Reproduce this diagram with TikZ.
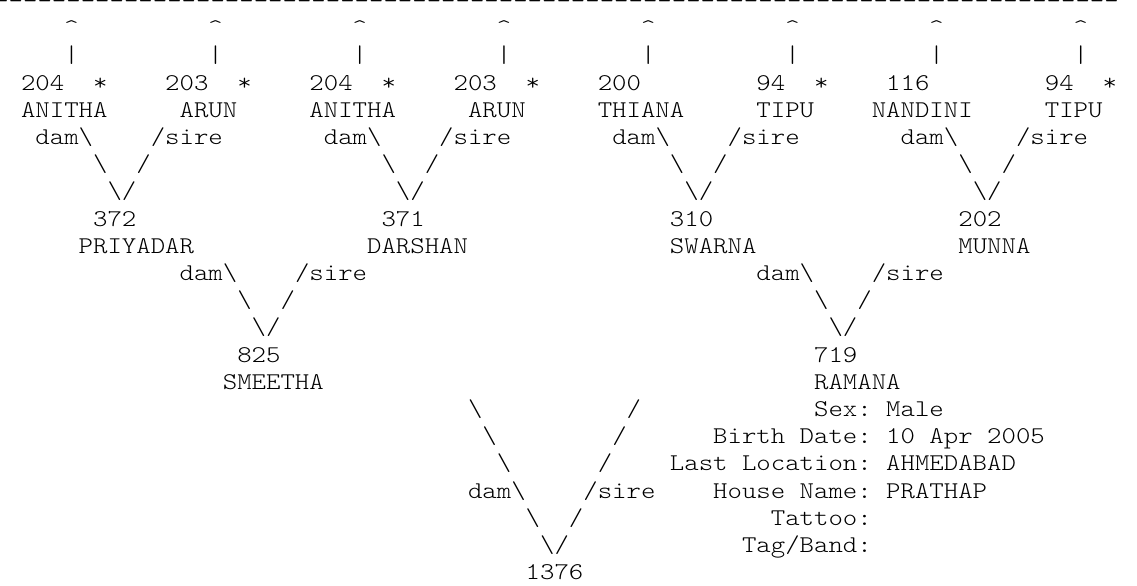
\documentclass[tikz,border=0pt]{standalone}
\usepackage{fontspec}
\newfontfamily\asciimono{lmmonolt10-regular.otf}[FakeStretch=1.1429, Ligatures=TeXOff]
\tikzset{txt/.style={anchor=base west, inner sep=0pt, outer sep=0pt,
  font=\asciimono\fontsize{18.02}{21.6}\selectfont, text=black}}
% token at grid column / row (1 unit = 1 px, y downwards)
\newcommand\asciitok[4]{\node[txt] (#1) at ({6.6+(#2)*14.42},{8.4+(#3)*27.2}) {#4};}
\newcommand\bs{\textbackslash}
\begin{document}
\begin{tikzpicture}[x=0.75pt,y=-0.75pt]
\useasboundingbox (0,0) rectangle (1137,585);
% top rule of dashes
\node[txt] (rule) at (-5.7,8.4) {------------------------------------------------------------------------------};
% row 1 and 2: arrows up
\foreach \c [count=\i] in {4,14,24,34,44,54,64,74}{
  \asciitok{up\i}{\c}{1}{\textasciicircum}
  \asciitok{bar\i}{\c}{2}{\textbar}
}
% row 3: numbers
\asciitok{n204a}{1}{3}{204}  \asciitok{st1}{6}{3}{*}
\asciitok{n203a}{11}{3}{203} \asciitok{st2}{16}{3}{*}
\asciitok{n204b}{21}{3}{204} \asciitok{st3}{26}{3}{*}
\asciitok{n203b}{31}{3}{203} \asciitok{st4}{36}{3}{*}
\asciitok{n200}{41}{3}{200}
\asciitok{n94a}{52}{3}{94}   \asciitok{st5}{56}{3}{*}
\asciitok{n116}{61}{3}{116}
\asciitok{n94b}{72}{3}{94}   \asciitok{st6}{76}{3}{*}
% row 4: names
\asciitok{anitha1}{1}{4}{ANITHA}
\asciitok{arun1}{12}{4}{ARUN}
\asciitok{anitha2}{21}{4}{ANITHA}
\asciitok{arun2}{32}{4}{ARUN}
\asciitok{thiana}{41}{4}{THIANA}
\asciitok{tipu1}{52}{4}{TIPU}
\asciitok{nandini}{60}{4}{NANDINI}
\asciitok{tipu2}{72}{4}{TIPU}
% rows 5-7: first generation V's
\foreach \o [count=\i] in {0,20,40,60}{
  \asciitok{dama\i}{2+\o}{5}{dam\bs}
  \asciitok{sirea\i}{10+\o}{5}{/sire}
  \asciitok{la\i}{6+\o}{6}{\bs}
  \asciitok{ra\i}{9+\o}{6}{/}
  \asciitok{va\i}{7+\o}{7}{\bs/}
}
% rows 8-9
\asciitok{n372}{6}{8}{372}
\asciitok{n371}{26}{8}{371}
\asciitok{n310}{46}{8}{310}
\asciitok{n202}{66}{8}{202}
\asciitok{priyadar}{5}{9}{PRIYADAR}
\asciitok{darshan}{25}{9}{DARSHAN}
\asciitok{swarna}{46}{9}{SWARNA}
\asciitok{munna}{66}{9}{MUNNA}
% rows 10-12: second generation V's
\foreach \o [count=\i] in {0,40}{
  \asciitok{damb\i}{12+\o}{10}{dam\bs}
  \asciitok{sireb\i}{20+\o}{10}{/sire}
  \asciitok{lb\i}{16+\o}{11}{\bs}
  \asciitok{rb\i}{19+\o}{11}{/}
  \asciitok{vb\i}{17+\o}{12}{\bs/}
}
% rows 13-14
\asciitok{n825}{16}{13}{825}
\asciitok{n719}{56}{13}{719}
\asciitok{smeetha}{15}{14}{SMEETHA}
\asciitok{ramana}{56}{14}{RAMANA}
% rows 15-20: big V
\asciitok{lc1}{32}{15}{\bs} \asciitok{rc1}{43}{15}{/}
\asciitok{lc2}{33}{16}{\bs} \asciitok{rc2}{42}{16}{/}
\asciitok{lc3}{34}{17}{\bs} \asciitok{rc3}{41}{17}{/}
\asciitok{damc}{32}{18}{dam\bs} \asciitok{sirec}{40}{18}{/sire}
\asciitok{lc5}{36}{19}{\bs} \asciitok{rc5}{39}{19}{/}
\asciitok{vc}{37}{20}{\bs/}
\asciitok{n1376}{36}{21}{1376}
% info block
\asciitok{sexl}{56}{15}{Sex:} \asciitok{sexv}{61}{15}{Male}
\asciitok{bdl1}{49}{16}{Birth} \asciitok{bdl2}{55}{16}{Date:}
\asciitok{bdv1}{61}{16}{10} \asciitok{bdv2}{64}{16}{Apr} \asciitok{bdv3}{68}{16}{2005}
\asciitok{lll1}{46}{17}{Last} \asciitok{lll2}{51}{17}{Location:} \asciitok{llv}{61}{17}{AHMEDABAD}
\asciitok{hnl1}{49}{18}{House} \asciitok{hnl2}{55}{18}{Name:} \asciitok{hnv}{61}{18}{PRATHAP}
\asciitok{tat}{53}{19}{Tattoo:}
\asciitok{tag}{51}{20}{Tag/Band:}
\end{tikzpicture}
\end{document}
